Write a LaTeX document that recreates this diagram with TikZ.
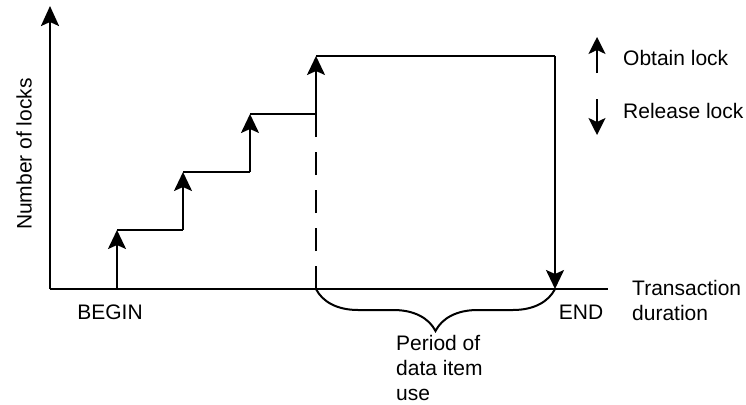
\documentclass[tikz,border=0pt]{standalone}
\usepackage{fontspec}
\setmainfont{Liberation Sans}
\usetikzlibrary{positioning}
\usetikzlibrary{arrows.meta,decorations.pathreplacing}

\begin{document}
\begin{tikzpicture}[x=1pt, y=-1pt, font=\fontsize{21}{25}\selectfont,
  axis/.style={line width=2.5pt},
  stair/.style={line width=2pt},
  lock/.style={line width=2pt, -{Stealth[length=19pt,width=18pt,inset=4pt]}},
  legend/.style={line width=2pt, -{Stealth[length=17pt,width=17pt,inset=4pt]}},
  lbl/.style={inner sep=0pt, anchor=west}]
\useasboundingbox (0,0) rectangle (746,404);
% axes
\coordinate (o) at (50,289);
\coordinate (ytop) at (50,6);
\coordinate (xend) at (608,289);
\draw [axis, -{Stealth[length=20pt,width=18pt,inset=4pt]}] (o) -- (ytop);
\draw [axis] (o) -- (xend);
\node [rotate=90] (ylab) at (24,154) {Number of locks};
% growing phase
\coordinate (b) at (117,289);
\coordinate (s1) at (117,230);
\coordinate (s1e) at (183,230);
\coordinate (s2) at (183,172);
\coordinate (s2e) at (250,172);
\coordinate (s3) at (250,114);
\coordinate (s3e) at (316,114);
\coordinate (lp) at (316,289);
\coordinate (s4) at (316,56);
\draw [lock] (b) -- (s1);
\draw [stair] (s1) -- (s1e);
\draw [lock] (s1e) -- (s2);
\draw [stair] (s2) -- (s2e);
\draw [lock] (s2e) -- (s3);
\draw [stair] (s3) -- (s3e);
\draw [stair, dash pattern=on 23pt off 15pt] (lp) -- (s3e);
\draw [lock] (s3e) -- (s4);
% shrinking phase
\coordinate (s4e) at (555,56);
\coordinate (e) at (555,289);
\draw [stair] (s4) -- (s4e);
\draw [lock] (s4e) -- (e);
% legend
\coordinate (up1) at (597,73);
\coordinate (up2) at (597,37);
\coordinate (dn1) at (597,99);
\coordinate (dn2) at (597,135);
\draw [legend] (up1) -- (up2);
\draw [legend] (dn1) -- (dn2);
\node [lbl] (obtain) at (623,58) {Obtain lock};
\node [lbl] (release) at (623,111) {Release lock};
% labels on time axis
\node [lbl, align=left, anchor=north west] (dur) at (632,280) {Transaction\\duration};
\node (begin) at (110,312) {BEGIN};
\node (end) at (581,312) {END};
\draw [stair, decorate, decoration={brace, mirror, amplitude=42pt}] (lp) -- (e);
\node [inner sep=0pt, align=left, anchor=north west] (use) at (396,335) {Period of\\data item\\use};
\end{tikzpicture}
\end{document}
